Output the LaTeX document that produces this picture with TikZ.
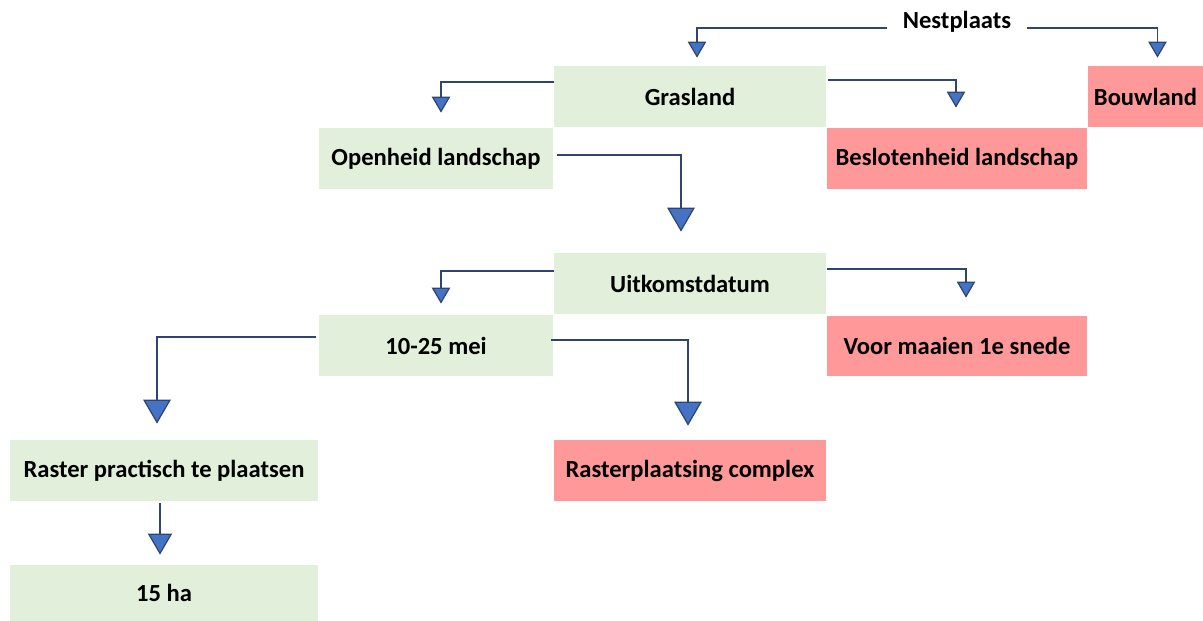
\documentclass[tikz,border=0pt]{standalone}
\usepackage{fontspec}
\setmainfont{Carlito}
\usetikzlibrary{arrows.meta,calc}
\definecolor{groen}{HTML}{E2EFDA}
\definecolor{rood}{HTML}{FF9999}
\definecolor{lijn}{HTML}{2F4470}
\definecolor{punt}{HTML}{4472C4}

\begin{document}
\begin{tikzpicture}[
		x={(0.02cm,0cm)},
		y={(0cm,-0.02cm)},
		vak/.style={inner sep=0pt, font=\bfseries\fontsize{14}{16}\selectfont},
		pijl/.style={draw=lijn, line width=1.1pt, -{Triangle[fill=punt, length=#1, width=#1*1.15, line width=0.7pt]}},
		pijl/.default=0.32cm,
	]
		\useasboundingbox (0,0) rectangle (1203,621);
		
		\node[vak, minimum width=2.8cm] (nest) at (957,22) {Nestplaats};
		\foreach \n/\x/\y/\w/\h/\c/\t in {gras/690/96.5/5.44/1.22/groen/Grasland,
			bouw/1145.5/96.5/2.3/1.22/rood/Bouwland,
			open/436/158.5/4.68/1.22/groen/Openheid landschap,
			besl/957/158.5/5.2/1.22/rood/Beslotenheid landschap,
			uitk/690/283.5/5.44/1.22/groen/Uitkomstdatum,
			mei/436/345.5/4.68/1.22/groen/10-25 mei,
			maai/957/346/5.2/1.2/rood/Voor maaien 1e snede,
			prak/164/470.5/6.16/1.22/groen/Raster practisch te plaatsen,
			compl/690/470.5/5.44/1.22/rood/Rasterplaatsing complex,
			ha/164/593/6.16/1.12/groen/15 ha}{
			\node[vak, fill=\c, minimum width=\w cm, minimum height=\h cm] (\n) at (\x,\y) {\t};
		}
		
		\draw[pijl] ($(nest.west)+(0,6)$) -| ($(gras.north)+(7,-8)$);
		\draw[pijl] ($(nest.east)+(0,6)$) -| ($(bouw.north)+(12,-8)$);
		\draw[pijl] ($(gras.north west)+(0,16)$) -| ($(open.north)+(5,-15)$);
		\draw[pijl] ($(gras.north east)+(2,14)$) -| ($(besl.north)+(-1,-20)$);
		\draw[pijl=0.48cm] ($(open.north east)+(4,27)$) -| ($(uitk.north)+(-9,-21)$);
		\draw[pijl] ($(uitk.north west)+(0,18)$) -| ($(mei.north)+(5,-11)$);
		\draw[pijl] ($(uitk.north east)+(1,16)$) -| ($(maai.north)+(9,-18)$);
		\draw[pijl=0.48cm] ($(mei.north west)+(-3,22)$) -| ($(prak.north)+(-7,-16)$);
		\draw[pijl=0.48cm] ($(mei.north east)+(-2,25)$) -| ($(compl.north)+(-2,-14)$);
		\draw[pijl=0.42cm] ($(prak.south)+(-4,2)$) -- ($(ha.north)+(-4,-10)$);
	\end{tikzpicture}
\end{document}
